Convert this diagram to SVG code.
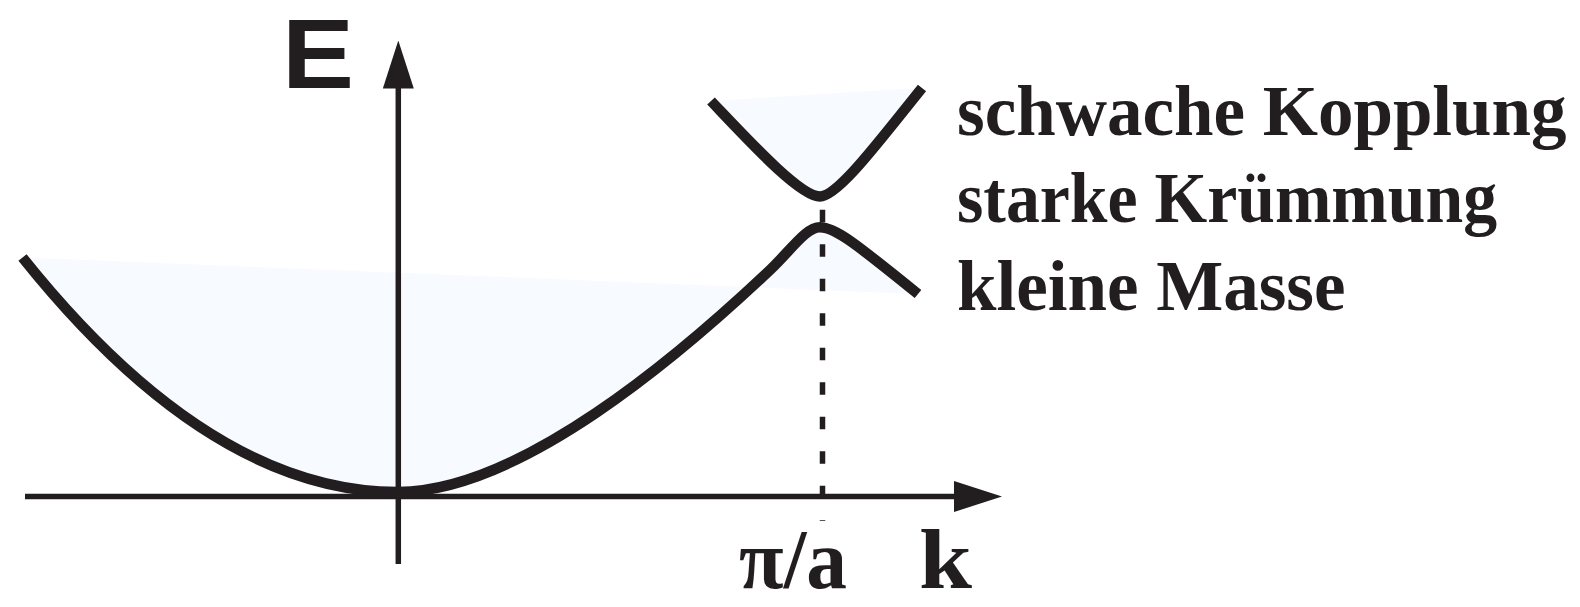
<svg xmlns="http://www.w3.org/2000/svg" width="1580" height="607" viewBox="0 0 1580 607">
<style>
.band{stroke:#221e1f;stroke-width:10.5;fill:none;stroke-linecap:butt;stroke-linejoin:round}
.shade{fill:#f7fafe;stroke:none}
.axis{stroke:#221e1f;stroke-width:5.5;fill:none}
.dash{stroke:#221e1f;stroke-width:5.5;stroke-dasharray:12.5 22;fill:none}
.serif{font-family:"Liberation Serif","Times New Roman",serif;font-weight:bold;fill:#221e1f}
.sans{font-family:"Liberation Sans",Arial,sans-serif;font-weight:bold;fill:#221e1f}
.note{font-size:71px}
</style>
<defs>
<marker id="arrow" viewBox="0 0 48 31" refX="4" refY="15.5" markerWidth="48" markerHeight="31" markerUnits="userSpaceOnUse" orient="auto">
<path d="M0,0 L48,15.5 L0,31 Z" fill="#221e1f"/>
</marker>
<path id="lowerBand" d="M22.5,257.5 Q210,492 398,492 C520,492 680,355 770,270 C792,249 806,227.3 820,227.3 C835,227.3 855,243 918,294"/>
<path id="upperBand" d="M711,101 C750,142 800,196.5 820,196.5 C838,196.5 880,140 922,88"/>
</defs>
<rect width="1580" height="607" fill="#ffffff"/>
<g id="shading">
<use href="#lowerBand" class="shade"/>
<use href="#upperBand" class="shade"/>
</g>
<g id="connectors">
<line id="k-axis" class="axis" x1="25" y1="496.5" x2="958" y2="496.5" marker-end="url(#arrow)"/>
<line id="E-axis" class="axis" x1="398.3" y1="564" x2="398.3" y2="84.5" marker-end="url(#arrow)"/>
<line id="zone-boundary" class="dash" x1="822.5" y1="209.7" x2="822.5" y2="521"/>
</g>
<g id="lower-band">
<use href="#lowerBand" class="band"/>
</g>
<g id="upper-band">
<use href="#upperBand" class="band"/>
</g>
<g id="label-E">
<text class="sans" x="282" y="88" font-size="98" textLength="72" lengthAdjust="spacingAndGlyphs">E</text>
</g>
<g id="label-pi-a">
<text class="serif" x="739" y="588.3" font-size="84" textLength="108" lengthAdjust="spacingAndGlyphs">π/a</text>
</g>
<g id="label-k">
<text class="serif" x="919" y="588.3" font-size="84" textLength="53" lengthAdjust="spacingAndGlyphs">k</text>
</g>
<g id="annotation">
<text class="serif note" x="957" y="134.8">schwache Kopplung</text>
<text class="serif note" x="957" y="221.7" textLength="540" lengthAdjust="spacingAndGlyphs">starke Krümmung</text>
<text class="serif note" x="957" y="309.8">kleine Masse</text>
</g>
</svg>
